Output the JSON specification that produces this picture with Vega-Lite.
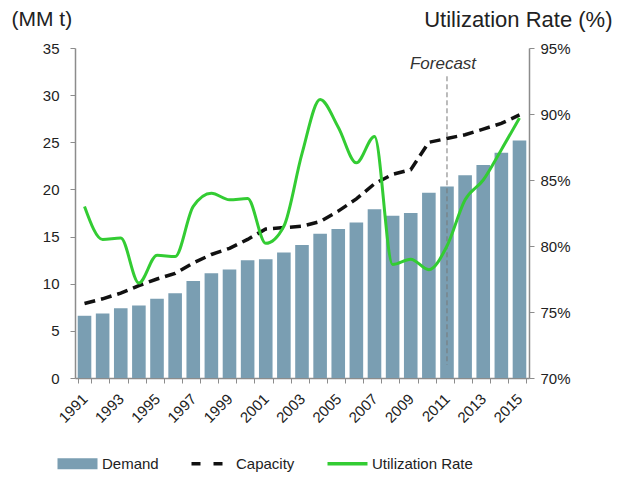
{
  "$schema": "https://vega.github.io/schema/vega-lite/v6.json",
  "width": 454,
  "height": 330,
  "autosize": "none",
  "padding": {"left": 75, "top": 48, "right": 90, "bottom": 105},
  "config": {
    "font": "Liberation Sans",
    "view": {"stroke": null},
    "axis": {"labelColor": "#222222", "titleColor": "#222222", "domainColor": "#8c8c8c", "tickColor": "#8c8c8c", "grid": false, "titleFontWeight": "normal"}
  },
  "data": {
    "values": [
      {"year": 1991, "demand": 6.6, "capacity": 7.9, "util": 83.0},
      {"year": 1992, "demand": 6.85, "capacity": 8.4, "util": 80.5},
      {"year": 1993, "demand": 7.4, "capacity": 9.0, "util": 80.6},
      {"year": 1994, "demand": 7.7, "capacity": 9.8, "util": 77.2},
      {"year": 1995, "demand": 8.4, "capacity": 10.5, "util": 79.3},
      {"year": 1996, "demand": 9.0, "capacity": 11.1, "util": 79.2},
      {"year": 1997, "demand": 10.3, "capacity": 12.2, "util": 83.0},
      {"year": 1998, "demand": 11.1, "capacity": 13.1, "util": 84.0},
      {"year": 1999, "demand": 11.5, "capacity": 13.75, "util": 83.5},
      {"year": 2000, "demand": 12.5, "capacity": 14.7, "util": 83.6},
      {"year": 2001, "demand": 12.6, "capacity": 15.8, "util": 80.2},
      {"year": 2002, "demand": 13.3, "capacity": 15.95, "util": 81.5},
      {"year": 2003, "demand": 14.1, "capacity": 16.1, "util": 87.0},
      {"year": 2004, "demand": 15.3, "capacity": 16.6, "util": 91.1},
      {"year": 2005, "demand": 15.8, "capacity": 17.7, "util": 89.0},
      {"year": 2006, "demand": 16.5, "capacity": 19.0, "util": 86.3},
      {"year": 2007, "demand": 17.9, "capacity": 20.6, "util": 88.3},
      {"year": 2008, "demand": 17.2, "capacity": 21.6, "util": 78.6},
      {"year": 2009, "demand": 17.5, "capacity": 22.1, "util": 79.0},
      {"year": 2010, "demand": 19.65, "capacity": 25.0, "util": 78.2},
      {"year": 2011, "demand": 20.3, "capacity": 25.4, "util": 80.0},
      {"year": 2012, "demand": 21.5, "capacity": 25.8, "util": 83.5},
      {"year": 2013, "demand": 22.6, "capacity": 26.4, "util": 85.0},
      {"year": 2014, "demand": 23.9, "capacity": 27.0, "util": 87.3},
      {"year": 2015, "demand": 25.2, "capacity": 27.9, "util": 89.7}
    ]
  },
  "encoding": {
    "x": {
      "field": "year",
      "type": "ordinal",
      "scale": {"paddingInner": 0.25, "paddingOuter": 0.15},
      "axis": {
        "title": null,
        "labelAngle": -45,
        "labelAlign": "right",
        "labelBaseline": "middle",
        "labelFontSize": 15,
        "labelOverlap": false,
        "labelExpr": "datum.value % 2 == 1 ? datum.value : ''",
        "tickBand": "extent",
        "tickSize": 5,
        "labelPadding": 13,
        "domainWidth": 1.5
      }
    }
  },
  "layer": [
    {
      "layer": [
        {
          "mark": {"type": "bar", "color": "#7a9eb2"},
          "encoding": {
            "y": {
              "field": "demand",
              "type": "quantitative",
              "scale": {"domain": [0, 35], "nice": false},
              "axis": {
                "title": "(MM t)",
                "titleAngle": 0,
                "titleAlign": "left",
                "titleBaseline": "middle",
                "titleX": -64,
                "titleY": -29,
                "titleFontSize": 21,
                "values": [0, 5, 10, 15, 20, 25, 30, 35],
                "labelFontSize": 15,
                "tickSize": 5,
                "labelPadding": 11,
                "domainWidth": 1.5
              }
            },
            "color": {
              "datum": "Demand",
              "scale": {"domain": ["Demand", "Capacity", "Utilization Rate"], "range": ["#7a9eb2", "#111111", "#33cc33"]},
              "legend": {
                "orient": "none",
                "legendX": -5,
                "legendY": 408,
                "direction": "horizontal",
                "columns": 3,
                "gridAlign": "each",
                "title": null,
                "symbolSize": 1600,
                "labelFontSize": 15,
                "labelColor": "#222222",
                "labelOffset": 17,
                "columnPadding": 25,
                "encode": {
                  "symbols": {
                    "update": {
                      "shape": {"signal": "datum.value === 'Demand' ? 'M-1,-0.28H1V0.28H-1Z' : 'stroke'"},
                      "fill": {"signal": "datum.value === 'Demand' ? '#7a9eb2' : 'transparent'"},
                      "stroke": {"signal": "datum.value === 'Demand' ? '#7a9eb2' : datum.value === 'Capacity' ? '#111111' : '#33cc33'"},
                      "strokeDash": {"signal": "datum.value === 'Capacity' ? [9, 13] : [1, 0]"},
                      "strokeWidth": {"signal": "datum.value === 'Demand' ? 0 : 3.5"},
                      "opacity": {"value": 1}
                    }
                  }
                }
              }
            }
          }
        },
        {
          "mark": {"type": "line", "strokeDash": [11, 6], "strokeWidth": 3.5},
          "encoding": {
            "y": {
              "field": "capacity",
              "type": "quantitative",
              "axis": {
                "title": "(MM t)",
                "titleAngle": 0,
                "titleAlign": "left",
                "titleBaseline": "middle",
                "titleX": -64,
                "titleY": -29,
                "titleFontSize": 21,
                "values": [0, 5, 10, 15, 20, 25, 30, 35],
                "labelFontSize": 15,
                "tickSize": 5,
                "labelPadding": 11,
                "domainWidth": 1.5
              }
            },
            "color": {"datum": "Capacity"}
          }
        },
        {
          "data": {"values": [{"year": 2011, "label": "Forecast"}]},
          "mark": {"type": "rule", "strokeDash": [5, 3], "color": "#777777", "strokeWidth": 1},
          "encoding": {
            "y": {"datum": 32},
            "y2": {"datum": 1.4}
          }
        },
        {
          "data": {"values": [{"year": 2011, "label": "Forecast"}]},
          "mark": {"type": "text", "fontStyle": "italic", "fontSize": 17, "color": "#333333", "baseline": "middle", "dx": -4},
          "encoding": {
            "y": {"datum": 33.3},
            "text": {"field": "label"}
          }
        }
      ]
    },
    {
      "mark": {"type": "line", "interpolate": "monotone", "strokeWidth": 3},
      "encoding": {
        "y": {
          "field": "util",
          "type": "quantitative",
          "scale": {"domain": [70, 95], "nice": false},
          "axis": {
            "orient": "right",
            "title": "Utilization Rate (%)",
            "titleAngle": 0,
            "titleAlign": "right",
            "titleBaseline": "middle",
            "titleX": 83,
            "titleY": -29,
            "titleFontSize": 22,
            "values": [70, 75, 80, 85, 90, 95],
            "labelExpr": "datum.value + '%'",
            "labelFontSize": 15,
            "tickSize": 5,
            "labelPadding": 6,
            "domainWidth": 1.5
          }
        },
        "color": {"datum": "Utilization Rate"}
      }
    }
  ],
  "resolve": {"scale": {"y": "independent"}}
}
